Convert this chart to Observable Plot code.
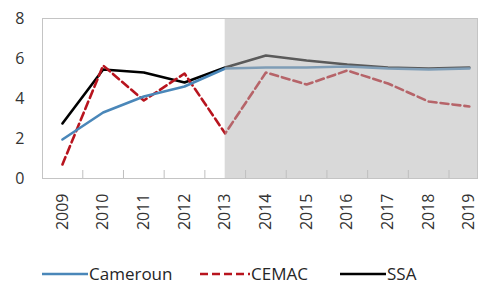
<!DOCTYPE html>
<html>
<head>
<meta charset="utf-8">
<script src="https://cdn.jsdelivr.net/npm/d3@7"></script>
<script src="https://cdn.jsdelivr.net/npm/@observablehq/plot@0.6"></script>
<style>
  body { margin: 0; background: #fff; font-family: "Open Sans", sans-serif; }
  #wrap { position: relative; width: 479px; height: 286px; overflow: hidden; }
  #legend { position: absolute; left: 0; top: 262px; width: 479px; height: 24px; }
  .item { position: absolute; top: 0; height: 24px; display: flex; align-items: center; font-size: 17px; line-height: 20px; color: #262626; }
  .item svg { display: block; margin-right: 1px; }
</style>
</head>
<body>
<div id="wrap">
  <div id="chart"></div>
  <div id="legend"></div>
</div>
<script>
const years = [2009, 2010, 2011, 2012, 2013, 2014, 2015, 2016, 2017, 2018, 2019];
const cameroun = [1.95, 3.3, 4.1, 4.6, 5.5, 5.55, 5.55, 5.6, 5.5, 5.45, 5.5];
const cemac = [0.7, 5.65, 3.9, 5.25, 2.25, 5.3, 4.7, 5.4, 4.75, 3.85, 3.6];
const ssa = [2.75, 5.45, 5.3, 4.8, 5.55, 6.15, 5.9, 5.7, 5.55, 5.5, 5.55];
const yTicks = [0, 2, 4, 6, 8];
const forecastStart = 2013;
const seriesNames = ["Cameroun", "CEMAC", "SSA"];
const seriesColors = ["#4a87b9", "#b8141e", "#000000"];
const seriesDash = [null, "8,4", null];

const seriesValues = [cameroun, cemac, ssa];
const rows = [];
seriesNames.forEach((name, i) => {
  years.forEach((yr, j) => rows.push({ series: name, year: yr, value: seriesValues[i][j] }));
});
const xDomain = [years[0] - 0.49, years[years.length - 1] + 0.2];
const halfTicks = years.slice(0, -1).map(y => y + 0.5);

const lineMarks = seriesNames.map((name, i) =>
  Plot.line(rows.filter(r => r.series === name), {
    x: "year", y: "value",
    stroke: seriesColors[i],
    strokeWidth: 2.6,
    strokeDasharray: seriesDash[i] || undefined,
    strokeLinejoin: "round"
  })
);

const chart = Plot.plot({
  width: 479,
  height: 262,
  marginTop: 18,
  marginBottom: 84,
  marginLeft: 42,
  marginRight: 2,
  style: { fontFamily: "Open Sans", fontSize: "16px", color: "#333333", background: "transparent" },
  x: { type: "linear", domain: xDomain },
  y: { domain: [0, 8] },
  marks: [
    ...lineMarks.reverse(),
    Plot.rect([{ x1: forecastStart, x2: xDomain[1] }], {
      x1: "x1", x2: "x2", y1: 0, y2: 8, fill: "#b3b3b3", fillOpacity: 0.5
    }),
    Plot.ruleX(halfTicks, { y1: 0, y2: 0.4, stroke: "#bfbfbf", strokeWidth: 1 }),
    Plot.frame({ stroke: "#c4c4c4", strokeWidth: 1 }),
    Plot.axisX(years, {
      tickFormat: d => String(d), tickRotate: -90, tickSize: 0, tickPadding: 15,
      fontSize: 16, label: null
    }),
    Plot.axisY(yTicks, { tickSize: 0, tickPadding: 18, fontSize: 16, label: null })
  ]
});
document.getElementById("chart").appendChild(chart);

const legend = document.getElementById("legend");
const lefts = [42, 200, 340];
seriesNames.forEach((name, i) => {
  const div = document.createElement("div");
  div.className = "item";
  div.style.left = lefts[i] + "px";
  const w = i === 1 ? 50 : 46;
  div.innerHTML = `<svg width="${w}" height="6"><line x1="0" y1="3" x2="${w}" y2="3" stroke="${seriesColors[i]}" stroke-width="2.6" ${seriesDash[i] ? `stroke-dasharray="${seriesDash[i]}"` : ""}/></svg><span>${name}</span>`;
  legend.appendChild(div);
});
</script>
</body>
</html>
